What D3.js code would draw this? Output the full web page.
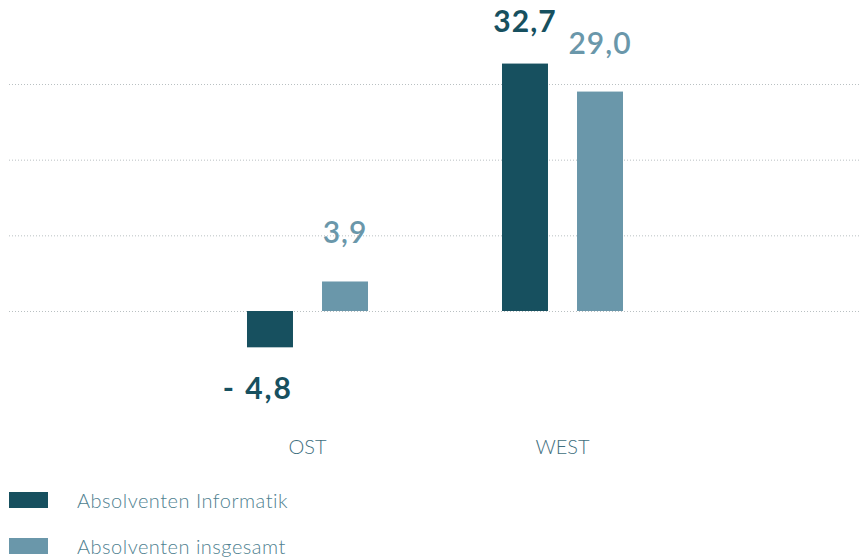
<!DOCTYPE html>
<html>
<head>
<meta charset="utf-8">
<script src="https://cdn.jsdelivr.net/npm/d3@7"></script>
<style>
  body { margin: 0; background: #fff; }
  svg { display: block; font-family: Lato, "Open Sans", sans-serif; }
</style>
</head>
<body>
<div id="chart"></div>
<script>
// data
var regions = ["OST", "WEST"];
var seriesNames = ["Absolventen Informatik", "Absolventen insgesamt"];
var informatik = [-4.8, 32.7];
var insgesamt = [3.9, 29.0];
var gridTicks = [0, 10, 20, 30];

var colors = ["#17505f", "#6a97aa"];

var W = 859, H = 557;

var svg = d3.select("#chart")
  .append("svg")
    .attr("width", W)
    .attr("height", H);

var x0 = d3.scaleBand()
  .domain(regions)
  .range([180, 690]);

var x1 = d3.scaleBand()
  .domain(seriesNames)
  .range([0, x0.bandwidth()])
  .paddingInner(0.387)
  .paddingOuter(0.893);

var y = d3.scaleLinear()
  .domain([0, 30])
  .range([311, 84]);

// dotted grid lines
svg.append("g")
  .selectAll("line")
  .data(gridTicks)
  .enter().append("line")
    .attr("x1", 9)
    .attr("x2", W)
    .attr("y1", function(d){ return y(d) + 0.5; })
    .attr("y2", function(d){ return y(d) + 0.5; })
    .attr("stroke", "#b9c0c2")
    .attr("stroke-width", 1)
    .attr("stroke-dasharray", "1,2");

// build rows for the bars
var rows = [];
for (let i = 0; i < regions.length; i++) {
  rows.push({region: regions[i], key: seriesNames[0], value: informatik[i], c: 0});
  rows.push({region: regions[i], key: seriesNames[1], value: insgesamt[i], c: 1});
}

svg.append("g")
  .selectAll("rect")
  .data(rows)
  .enter().append("rect")
    .attr("x", function(d){ return x0(d.region) + x1(d.key); })
    .attr("width", x1.bandwidth())
    .attr("y", function(d){ return y(Math.max(0, d.value)); })
    .attr("height", function(d){ return Math.abs(y(d.value) - y(0)); })
    .attr("fill", function(d){ return colors[d.c]; });

// value labels
function fmt(v) {
  var s = Math.abs(v).toFixed(1).replace(".", ",");
  return v < 0 ? "-\u00a0" + s : s;
}

svg.append("g")
  .selectAll("text")
  .data(rows)
  .enter().append("text")
    .attr("x", function(d){
      var cx = x0(d.region) + x1(d.key) + x1.bandwidth() / 2;
      return d.value < 0 ? x0(d.region) + x1(d.key) + x1.bandwidth() : cx;
    })
    .attr("y", function(d){
      if (d.value < 0) return y(d.value) + 52;
      return y(d.value) - (d.c == 0 ? 32 : 38);
    })
    .attr("text-anchor", function(d){ return d.value < 0 ? "end" : "middle"; })
    .attr("font-size", "30px")
    .attr("letter-spacing", function(d){ return d.value < 0 ? "2px" : "1px"; })
    .attr("font-weight", function(d){ return d.c == 0 ? 700 : 600; })
    .attr("fill", function(d){ return colors[d.c]; })
    .text(function(d){ return fmt(d.value); });

// category labels
svg.append("g")
  .selectAll("text")
  .data(regions)
  .enter().append("text")
    .attr("x", function(d){ return x0(d) + x0.bandwidth() / 2; })
    .attr("y", 454)
    .attr("text-anchor", "middle")
    .attr("font-size", "20px")
    .attr("font-weight", 300)
    .attr("fill", "#3f6f80")
    .text(function(d){ return d; });

// legend
var legend = svg.append("g")
  .selectAll("g")
  .data(seriesNames)
  .enter().append("g")
    .attr("transform", function(d, i){ return "translate(9," + (492 + i * 46) + ")"; });

legend.append("rect")
  .attr("width", 39)
  .attr("height", 16)
  .attr("fill", function(d, i){ return colors[i]; });

legend.append("text")
  .attr("x", 68)
  .attr("y", 16)
  .attr("font-size", "20px")
  .attr("letter-spacing", "0.5px")
  .attr("font-weight", 300)
  .attr("fill", "#4f7f90")
  .text(function(d){ return d; });
</script>
</body>
</html>
